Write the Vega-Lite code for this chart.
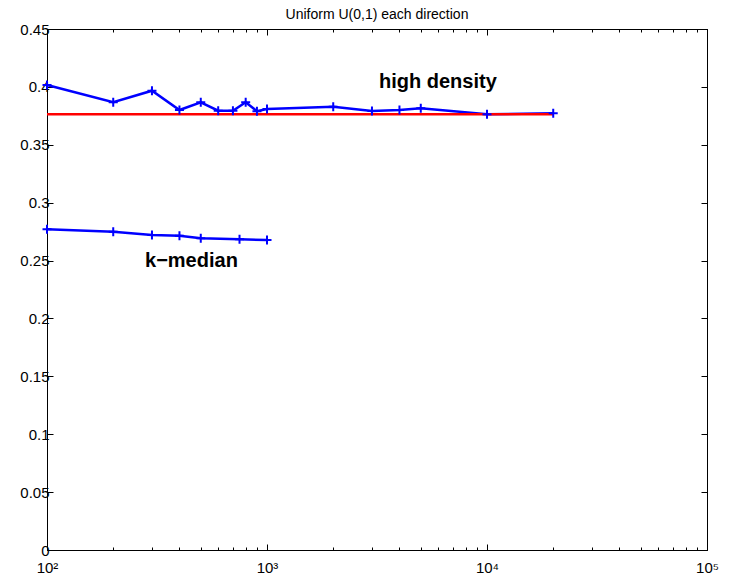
{
  "$schema": "https://vega.github.io/schema/vega-lite/v6.json",
  "width": 660,
  "height": 521,
  "autosize": {"type": "none"},
  "padding": {"left": 47, "top": 29, "right": 35, "bottom": 28},
  "background": "white",
  "config": {
    "view": {"stroke": "black", "strokeWidth": 1},
    "axis": {
      "grid": false,
      "domainColor": "black",
      "domainWidth": 1,
      "tickColor": "black",
      "tickWidth": 1,
      "labelColor": "black",
      "labelFont": "Liberation Sans",
      "labelFontSize": 15,
      "title": null
    }
  },
  "title": {
    "text": "Uniform U(0,1) each direction",
    "font": "Liberation Sans",
    "fontSize": 14,
    "fontWeight": "normal",
    "color": "black",
    "anchor": "middle",
    "baseline": "alphabetic",
    "offset": -11
  },
  "datasets": {
    "hd": [
      {"n": 100, "v": 0.4016},
      {"n": 200, "v": 0.3867},
      {"n": 300, "v": 0.3967},
      {"n": 400, "v": 0.3800},
      {"n": 500, "v": 0.3867},
      {"n": 600, "v": 0.3794},
      {"n": 700, "v": 0.3794},
      {"n": 800, "v": 0.3867},
      {"n": 900, "v": 0.3790},
      {"n": 1000, "v": 0.3809},
      {"n": 2000, "v": 0.3829},
      {"n": 3000, "v": 0.3792},
      {"n": 4000, "v": 0.3800},
      {"n": 5000, "v": 0.3815},
      {"n": 10000, "v": 0.3763},
      {"n": 20000, "v": 0.3772}
    ],
    "km": [
      {"n": 100, "v": 0.2770},
      {"n": 200, "v": 0.2749},
      {"n": 300, "v": 0.2720},
      {"n": 400, "v": 0.2715},
      {"n": 500, "v": 0.2692},
      {"n": 750, "v": 0.2684},
      {"n": 1000, "v": 0.2677}
    ],
    "ref": [
      {"n": 100, "v": 0.3763},
      {"n": 20000, "v": 0.3763}
    ],
    "labels": [
      {"n": 3228, "v": 0.399, "text": "high density"},
      {"n": 279, "v": 0.2442, "text": "k−median"}
    ]
  },
  "layer": [
    {
      "encoding": {
        "x": {
          "field": "n",
          "type": "quantitative",
          "scale": {"type": "log", "domain": [100, 100000], "nice": false},
          "axis": {
            "orient": "bottom",
            "values": [100, 200, 300, 400, 500, 600, 700, 800, 900, 1000, 2000, 3000, 4000, 5000, 6000, 7000, 8000, 9000, 10000, 20000, 30000, 40000, 50000, 60000, 70000, 80000, 90000, 100000],
            "tickSize": {"condition": {"test": "indexof([100,1000,10000,100000], datum.value) >= 0", "value": -6}, "value": -3},
            "labelExpr": "datum.value == 100 ? '10²' : datum.value == 1000 ? '10³' : datum.value == 10000 ? '10⁴' : datum.value == 100000 ? '10⁵' : ''",
            "labelPadding": 16,
            "labelFlush": false,
            "labelOverlap": false
          }
        },
        "y": {
          "field": "v",
          "type": "quantitative",
          "scale": {"domain": [0, 0.45], "nice": false, "zero": true},
          "axis": {
            "orient": "left",
            "values": [0, 0.05, 0.1, 0.15, 0.2, 0.25, 0.3, 0.35, 0.4, 0.45],
            "format": "~g",
            "tickSize": -6,
            "labelPadding": 4,
            "labelFlush": false,
            "labelOverlap": false
          }
        }
      },
      "layer": [
        {
          "data": {"name": "hd"},
          "mark": {"type": "line", "color": "#0000ff", "strokeWidth": 2.5}
        },
        {
          "data": {"name": "km"},
          "mark": {"type": "line", "color": "#0000ff", "strokeWidth": 2.5}
        },
        {
          "data": {"name": "ref"},
          "mark": {"type": "line", "color": "#ff0000", "strokeWidth": 2.5}
        },
        {
          "data": {"name": "hd"},
          "mark": {"type": "point", "shape": "M-1,0L1,0M0,-1L0,1", "filled": false, "stroke": "#0000ff", "strokeWidth": 2, "size": 81, "opacity": 1}
        },
        {
          "data": {"name": "km"},
          "mark": {"type": "point", "shape": "M-1,0L1,0M0,-1L0,1", "filled": false, "stroke": "#0000ff", "strokeWidth": 2, "size": 81, "opacity": 1}
        },
        {
          "data": {"name": "labels"},
          "mark": {"type": "text", "align": "left", "baseline": "alphabetic", "font": "Liberation Sans", "fontSize": 20, "fontWeight": "bold", "color": "black"},
          "encoding": {"text": {"field": "text", "type": "nominal"}}
        }
      ]
    },
    {
      "data": {"name": "hd"},
      "mark": {"type": "point", "opacity": 0},
      "encoding": {
        "x": {
          "field": "n",
          "type": "quantitative",
          "scale": {"type": "log", "domain": [100, 100000], "nice": false},
          "axis": {
            "orient": "top",
            "values": [100, 200, 300, 400, 500, 600, 700, 800, 900, 1000, 2000, 3000, 4000, 5000, 6000, 7000, 8000, 9000, 10000, 20000, 30000, 40000, 50000, 60000, 70000, 80000, 90000, 100000],
            "tickSize": {"condition": {"test": "indexof([100,1000,10000,100000], datum.value) >= 0", "value": -6}, "value": -3},
            "labels": false
          }
        },
        "y": {
          "field": "v",
          "type": "quantitative",
          "scale": {"domain": [0, 0.45], "nice": false, "zero": true},
          "axis": {
            "orient": "right",
            "values": [0, 0.05, 0.1, 0.15, 0.2, 0.25, 0.3, 0.35, 0.4, 0.45],
            "tickSize": -6,
            "labels": false
          }
        }
      }
    }
  ],
  "resolve": {"axis": {"x": "independent", "y": "independent"}}
}
